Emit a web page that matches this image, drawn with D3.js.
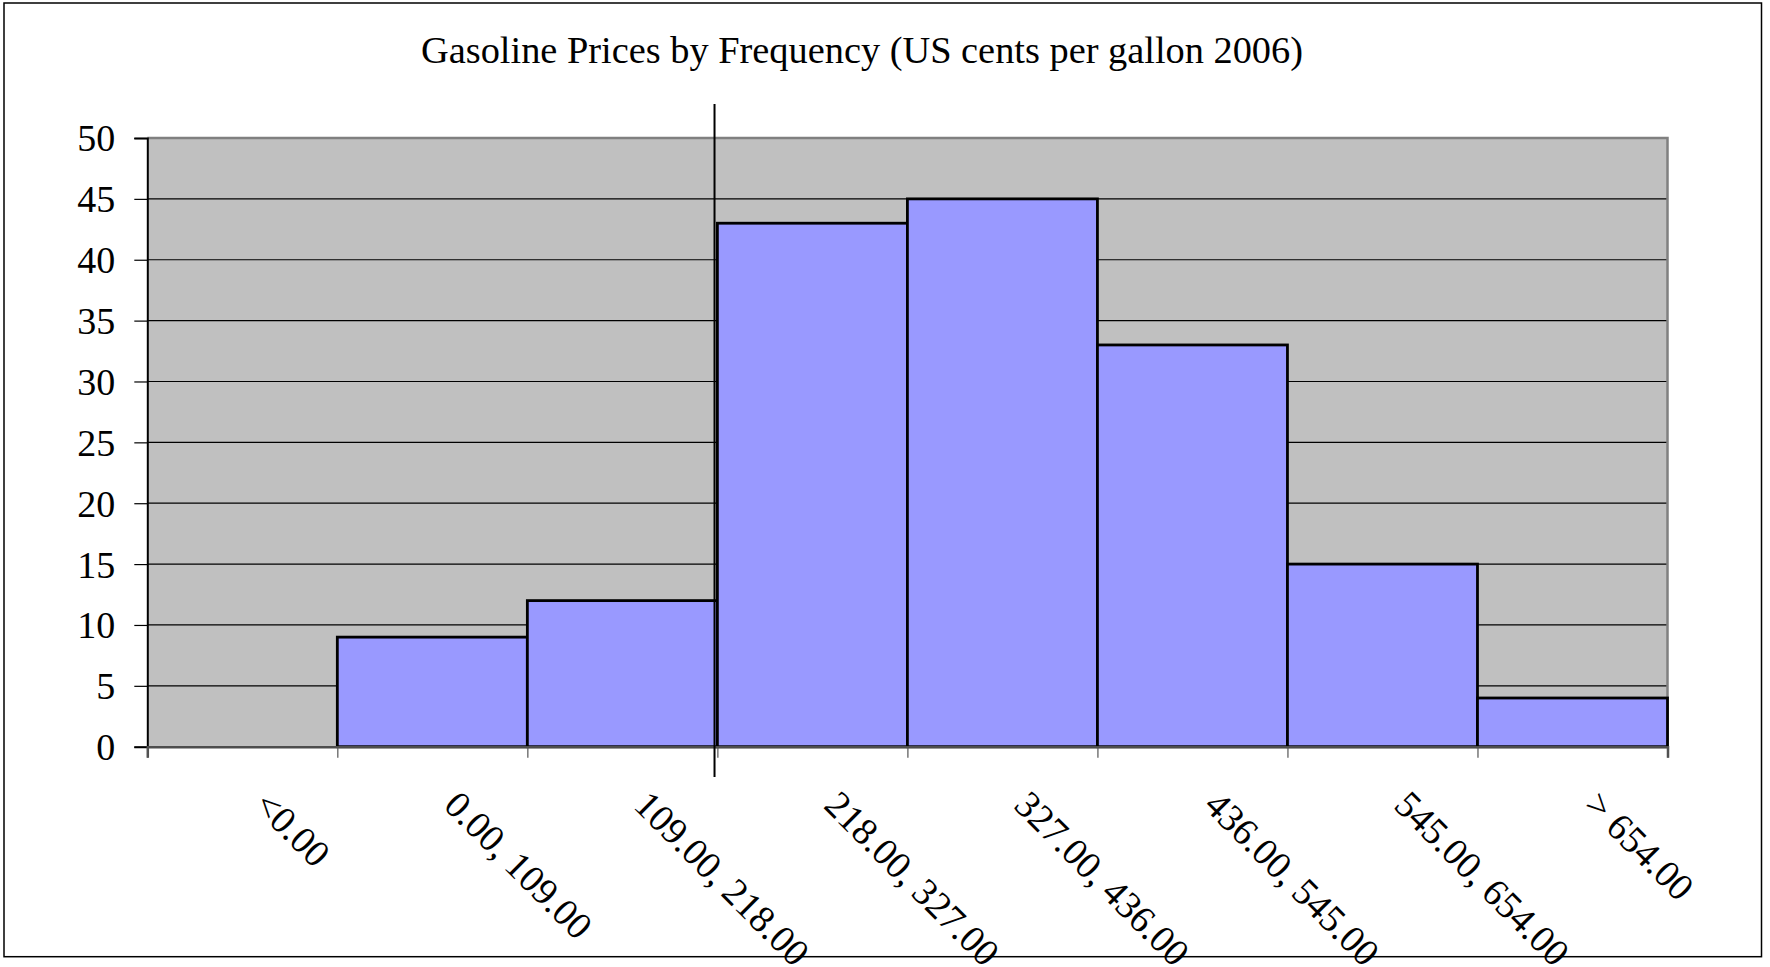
<!DOCTYPE html>
<html>
<head>
<meta charset="utf-8">
<script src="https://cdn.jsdelivr.net/npm/d3@7"></script>
<style>
  html, body { margin: 0; padding: 0; background: #fff; }
  svg { display: block; }
  text { font-family: "Liberation Serif", "Times New Roman", serif; fill: #000; }
</style>
</head>
<body>
<div id="chart"></div>
<script>
  // bins of the histogram (US cents per gallon, 2006)
  const bins = ['<0.00', '0.00, 109.00', '109.00, 218.00', '218.00, 327.00',
                '327.00, 436.00', '436.00, 545.00', '545.00, 654.00', '> 654.00'];
  const counts = [0, 9, 12, 43, 45, 33, 15, 4];
  const yTicks = [0, 5, 10, 15, 20, 25, 30, 35, 40, 45, 50];
  const markerAt = 2.985; // hand-drawn vertical marker, in bin units
  const title = 'Gasoline Prices by Frequency (US cents per gallon 2006)';

  const W = 1770, H = 967;
  const plot = { left: 147.3, right: 1667.5, top: 138, bottom: 746.7 };

  const svg = d3.select('#chart').append('svg')
    .attr('width', W).attr('height', H);

  // outer chart border
  svg.append('rect')
    .attr('x', 4).attr('y', 3)
    .attr('width', 1761.5 - 4).attr('height', 956.7 - 3)
    .attr('fill', '#fff').attr('stroke', '#000').attr('stroke-width', 1.5);

  svg.append('text')
    .attr('x', 862).attr('y', 63)
    .attr('text-anchor', 'middle')
    .attr('font-size', 38)
    .attr('textLength', 882).attr('lengthAdjust', 'spacingAndGlyphs')
    .text(title);

  const x = d3.scaleLinear().domain([0, bins.length]).range([plot.left, plot.right]);
  const y = d3.scaleLinear().domain([0, 50]).range([plot.bottom, plot.top]);

  // plot area
  svg.append('rect')
    .attr('x', plot.left).attr('y', plot.top)
    .attr('width', plot.right - plot.left).attr('height', plot.bottom - plot.top)
    .attr('fill', '#c0c0c0');

  // gridlines
  svg.append('g')
    .selectAll('line')
    .data(yTicks.filter(d => d > 0 && d < 50))
    .join('line')
    .attr('x1', plot.left).attr('x2', plot.right)
    .attr('y1', d => y(d)).attr('y2', d => y(d))
    .attr('stroke', '#000').attr('stroke-width', 1.2);

  // plot border top / right
  svg.append('path')
    .attr('d', `M${plot.left},${plot.top}H${plot.right}V${plot.bottom}`)
    .attr('fill', 'none').attr('stroke', '#808080').attr('stroke-width', 2.5);

  // bars
  svg.append('g')
    .selectAll('rect')
    .data(counts.map((v, i) => ({ v, i })).filter(d => d.v > 0))
    .join('rect')
    .attr('x', d => x(d.i))
    .attr('y', d => y(d.v))
    .attr('width', d => x(d.i + 1) - x(d.i))
    .attr('height', d => y(0) - y(d.v))
    .attr('fill', '#9999ff')
    .attr('stroke', '#000').attr('stroke-width', 2.8);

  // y axis
  const yAxis = svg.append('g')
    .attr('transform', `translate(${plot.left},0)`)
    .call(d3.axisLeft(y).tickValues(yTicks).tickSize(13).tickPadding(19));
  yAxis.select('.domain').attr('stroke', '#000').attr('stroke-width', 2);
  yAxis.selectAll('.tick line').attr('stroke', '#000').attr('stroke-width', 1.2);
  yAxis.selectAll('.tick text')
    .attr('font-size', 38).attr('font-family', '"Liberation Serif", serif')
    .attr('dy', '0.34em');

  // x axis (ticks on bin edges)
  const xAxis = svg.append('g')
    .attr('transform', `translate(0,${plot.bottom})`)
    .call(d3.axisBottom(x).tickValues(d3.range(bins.length + 1)).tickSize(11).tickFormat(''));
  xAxis.select('.domain').attr('stroke', '#4d4d4d').attr('stroke-width', 2.5);
  xAxis.selectAll('.tick line').attr('stroke', '#555').attr('stroke-width', 1.2);

  // rotated bin labels
  svg.append('g')
    .selectAll('text')
    .data(bins)
    .join('text')
    .attr('transform', (d, i) => `translate(${x(i + 0.5) + 10},807) rotate(45)`)
    .attr('font-size', 38)
    .text(d => d);

  // vertical marker line
  svg.append('line')
    .attr('x1', x(markerAt)).attr('x2', x(markerAt))
    .attr('y1', 104).attr('y2', 777)
    .attr('stroke', '#000').attr('stroke-width', 2);
</script>
</body>
</html>
